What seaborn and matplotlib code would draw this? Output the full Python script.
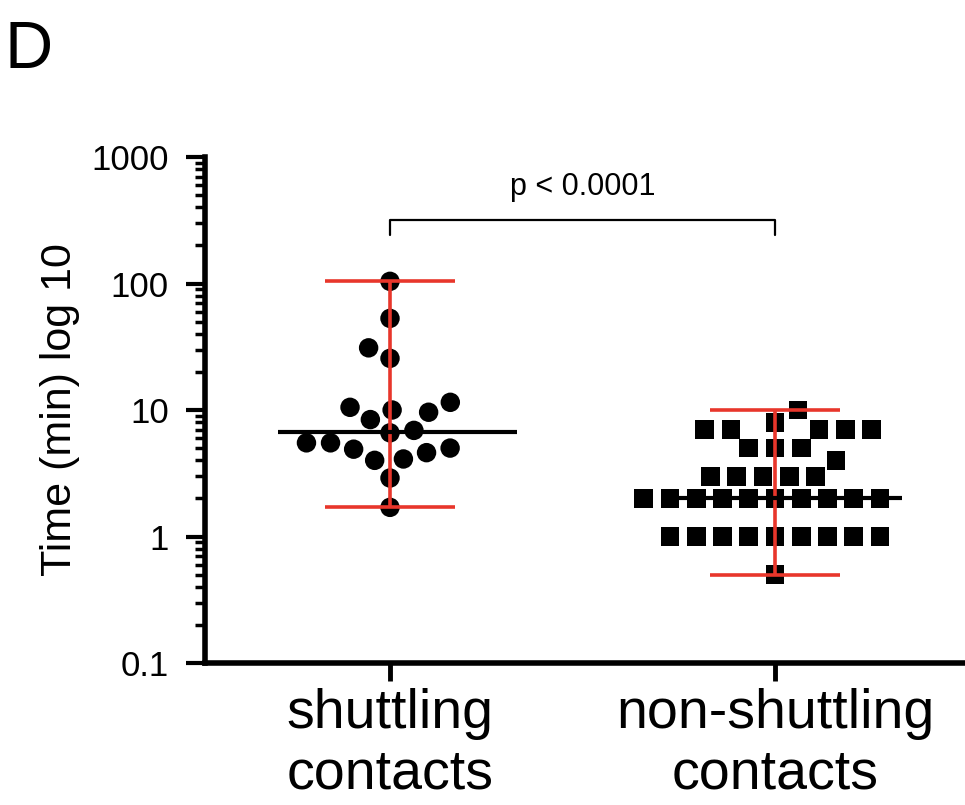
import numpy as np
import pandas as pd
import matplotlib
matplotlib.use("Agg")
import matplotlib.pyplot as plt
import seaborn as sns
from matplotlib.ticker import FixedLocator, LogLocator, NullFormatter

# ---- data ----
categories = ["shuttling\ncontacts", "non-shuttling\ncontacts"]
shuttling = [104, 53, 31, 25.6, 11.5, 10.5, 10, 9.6, 8.4, 6.9, 6.6,
             5.5, 5.5, 5.0, 4.9, 4.6, 4.1, 4.0, 2.9, 1.7]
non_shuttling = [10, 8, 7, 7, 7, 7, 7, 5, 5, 5, 4,
                 3, 3, 3, 3, 3,
                 2, 2, 2, 2, 2, 2, 2, 2, 2, 2,
                 1, 1, 1, 1, 1, 1, 1, 1, 1, 0.5]
y_ticks = [0.1, 1, 10, 100, 1000]
y_ticklabels = ["0.1", "1", "10", "100", "1000"]
p_text = "p < 0.0001"

df_s = pd.DataFrame({"group": categories[0], "time": shuttling})
df_n = pd.DataFrame({"group": categories[1], "time": non_shuttling})

sns.set_theme(style="ticks")
plt.rcParams["font.family"] = ["Liberation Sans", "DejaVu Sans"]
for k in ["text.color", "axes.labelcolor", "xtick.color", "ytick.color",
          "axes.edgecolor"]:
    plt.rcParams[k] = "black"

fig = plt.figure(figsize=(9.65, 8.05), dpi=100)
ax = fig.add_axes([205/965, (805-663)/805, 760/965, (663-157)/805])

ax.set_yscale("log")
ax.set_ylim(0.1, 1000)
ax.set_xlim(-0.4805, 1.4935)

# invisible edges widen the swarm spacing without changing the marker look
sns.swarmplot(data=df_s, x="group", y="time", order=categories, ax=ax,
              color="black", marker="o", size=14, linewidth=2.5,
              edgecolor="none", zorder=2)
sns.swarmplot(data=df_n, x="group", y="time", order=categories, ax=ax,
              color="black", marker="s", size=13.5, linewidth=4.5,
              edgecolor="none", zorder=2)

red = "#e8362b"
for i, vals in enumerate([shuttling, non_shuttling]):
    lo, hi = np.min(vals), np.max(vals)
    med = np.median(vals)
    ax.vlines(i, lo, hi, color=red, lw=2.6, zorder=3)
    ax.hlines([lo, hi], i - 0.17, i + 0.17, color=red, lw=2.6, zorder=3)
    ax.hlines(med, i - 0.29, i + 0.33, color="black", lw=3, zorder=4)

ax.set_xlim(-0.4805, 1.4935)
ax.set_ylim(0.1, 1000)

# axes styling
for s in ["top", "right"]:
    ax.spines[s].set_visible(False)
for s in ["left", "bottom"]:
    ax.spines[s].set_linewidth(4)
    ax.spines[s].set_color("black")

ax.yaxis.set_major_locator(FixedLocator(y_ticks))
ax.set_yticklabels(y_ticklabels)
ax.yaxis.set_minor_locator(LogLocator(base=10, subs=np.arange(2, 10)))
ax.yaxis.set_minor_formatter(NullFormatter())
ax.tick_params(axis="y", which="major", length=14, width=3, labelsize=25,
               pad=12, colors="black")
ax.tick_params(axis="y", which="minor", length=7, width=2.5, colors="black")
ax.tick_params(axis="x", which="major", length=13, width=3.5, labelsize=40,
               pad=5, colors="black")
ax.set_xlabel("")
ax.set_ylabel("Time (min) log 10", fontsize=31, labelpad=8, color="black")

# significance bracket
ax.plot([0, 0, 1, 1], [240, 320, 320, 240], color="black", lw=1.6,
        clip_on=False, zorder=5)
ax.text(0.5, 500, p_text, ha="center", va="baseline", fontsize=22,
        color="black")

fig.text(5/965, 1 - 68/805, "D", fontsize=48, ha="left", va="baseline",
         color="black")

fig.savefig("out.png", dpi=100, facecolor="white")
